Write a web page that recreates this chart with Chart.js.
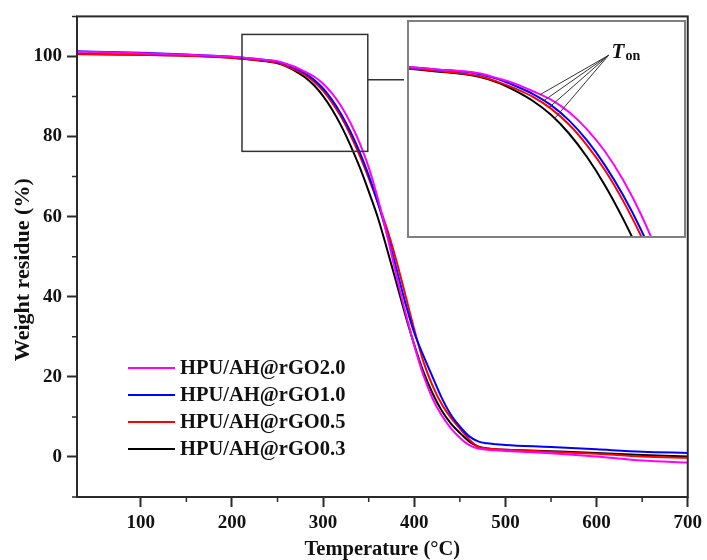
<!DOCTYPE html>
<html>
<head>
<meta charset="utf-8">
<title>TGA curves</title>
<script src="https://cdn.jsdelivr.net/npm/chart.js@4.4.1/dist/chart.umd.min.js"></script>
<style>
  html, body { margin: 0; padding: 0; background: #fff; }
  #wrap { position: relative; width: 707px; height: 560px; overflow: hidden; }
  #mainChart { position: absolute; left: 0; top: 0; }
  #insetBox { position: absolute; left: 407px; top: 20px; width: 279px; height: 218px; background: #fff; }
</style>
</head>
<body>
<div id="wrap">
  <canvas id="mainChart" width="707" height="560"></canvas>
  <div id="insetBox"><canvas id="insetChart" width="279" height="218"></canvas></div>
</div>
<script>
// TGA data (temperature in °C, weight residue in %)
const temps = [30, 50, 100, 150, 200, 225, 250, 260, 270, 280, 290, 300, 310, 320, 330, 340, 350, 360,
               370, 380, 390, 400, 410, 420, 430, 440, 450, 460, 470, 480, 490, 500, 550, 600, 650, 700];

const rgo20 = [101.2, 101.1, 100.8, 100.4, 99.9, 99.4, 98.8, 98.1, 97.3, 96.2, 95.0, 93.2, 90.7, 87.5, 83.4, 78.4, 72.3, 64.5,
               55.5, 45.6, 36.3, 27.8, 20.4, 14.6, 10.4, 7.2, 4.8, 3.0, 2.1, 1.8, 1.65, 1.5, 0.9, 0.1, -0.9, -1.4];
const rgo10 = [101.3, 101.2, 100.9, 100.5, 99.9, 99.4, 98.7, 98.0, 97.0, 95.8, 94.2, 92.0, 89.1, 85.5, 81.2, 76.2, 70.3, 63.5,
               55.8, 47.3, 38.6, 31.0, 25.3, 20.0, 14.8, 10.6, 7.6, 5.2, 3.9, 3.4, 3.2, 3.0, 2.5, 1.9, 1.3, 1.0];
const rgo05 = [100.6, 100.5, 100.4, 100.2, 99.7, 99.2, 98.4, 97.6, 96.6, 95.4, 93.7, 91.4, 88.4, 84.8, 80.4, 75.3, 69.6, 63.5,
               57.0, 49.3, 40.6, 31.8, 23.8, 17.8, 13.2, 9.8, 7.1, 4.4, 2.5, 2.1, 1.9, 1.8, 1.3, 0.8, 0.1, -0.2];
const rgo03 = [100.7, 100.6, 100.4, 100.2, 99.7, 99.1, 98.3, 97.5, 96.3, 94.8, 92.8, 90.1, 86.7, 82.6, 77.8, 72.4, 66.3, 59.8,
               52.0, 43.8, 35.6, 28.0, 21.3, 15.9, 11.6, 8.4, 6.0, 3.9, 2.6, 2.1, 1.9, 1.8, 1.4, 1.0, 0.5, 0.1];

const seriesLabels = ['HPU/AH@rGO2.0', 'HPU/AH@rGO1.0', 'HPU/AH@rGO0.5', 'HPU/AH@rGO0.3'];
const seriesValues = [rgo20, rgo10, rgo05, rgo03];
const seriesColors = ['#ff00ff', '#0000ff', '#ff0000', '#000000'];

const xTickLabels = [100, 200, 300, 400, 500, 600, 700];
const yTickLabels = [0, 20, 40, 60, 80, 100];

// zoomed region (main plot) and the inset ranges
const zoomBoxX = [211, 349];
const zoomBoxY = [76.3, 105.5];
const insetX = [210, 365];
const insetY = [75, 106.5];

// onset temperatures marked in the inset
const onsetTemps = [284, 286, 289, 292];
const onsetLabelAt = [322, 101.4];

const FONT = "'Liberation Serif', 'Times New Roman', serif";
const AXIS = '#2a2a2a';

function valueAt(xs, ys, t) {
  for (let i = 1; i < xs.length; i++) {
    if (t <= xs[i]) {
      const f = (t - xs[i - 1]) / (xs[i] - xs[i - 1]);
      return ys[i - 1] + f * (ys[i] - ys[i - 1]);
    }
  }
  return ys[ys.length - 1];
}

function makeDatasets() {
  return seriesLabels.map((label, i) => ({
    label: label,
    data: temps.map((t, k) => ({ x: t, y: seriesValues[i][k] })),
    borderColor: seriesColors[i],
    backgroundColor: seriesColors[i],
    borderWidth: 2,
    pointRadius: 0,
    fill: false,
    cubicInterpolationMode: 'monotone'
  }));
}

// frame, minor ticks, y title, zoom box and legend for the main plot
const mainDecor = {
  id: 'mainDecor',
  afterDraw(chart) {
    const { ctx, chartArea: a, scales: { x, y } } = chart;
    ctx.save();
    ctx.strokeStyle = AXIS;
    ctx.lineWidth = 2;
    ctx.strokeRect(a.left, a.top, a.right - a.left, a.bottom - a.top);

    // minor ticks
    ctx.lineWidth = 1.5;
    ctx.beginPath();
    x.ticks.forEach(t => {
      if (xTickLabels.includes(t.value)) return;
      const px = x.getPixelForValue(t.value);
      ctx.moveTo(px, a.bottom);
      ctx.lineTo(px, a.bottom + 5);
    });
    y.ticks.forEach(t => {
      if (yTickLabels.includes(t.value)) return;
      const py = y.getPixelForValue(t.value);
      ctx.moveTo(a.left, py);
      ctx.lineTo(a.left - 5, py);
    });
    ctx.stroke();

    // y axis title (sits a little below the plot centre in the original)
    ctx.save();
    ctx.translate(23, (a.top + a.bottom) / 2 + 13);
    ctx.rotate(-Math.PI / 2);
    ctx.font = 'bold 22px ' + FONT;
    ctx.fillStyle = '#111';
    ctx.textAlign = 'center';
    ctx.textBaseline = 'middle';
    ctx.fillText('Weight residue (%)', 0, 0);
    ctx.restore();

    // zoom box + connector
    const bx0 = x.getPixelForValue(zoomBoxX[0]), bx1 = x.getPixelForValue(zoomBoxX[1]);
    const by0 = y.getPixelForValue(zoomBoxY[1]), by1 = y.getPixelForValue(zoomBoxY[0]);
    ctx.strokeStyle = '#333';
    ctx.lineWidth = 1.5;
    ctx.strokeRect(bx0, by0, bx1 - bx0, by1 - by0);
    const cy = y.getPixelForValue(94.2);
    ctx.beginPath();
    ctx.moveTo(bx1, cy);
    ctx.lineTo(404, cy);
    ctx.stroke();

    // legend
    ctx.font = 'bold 20.5px ' + FONT;
    ctx.textBaseline = 'middle';
    ctx.textAlign = 'left';
    seriesLabels.forEach((label, i) => {
      const ly = 368 + i * 27;
      ctx.strokeStyle = seriesColors[i];
      ctx.lineWidth = 2;
      ctx.beginPath();
      ctx.moveTo(128, ly);
      ctx.lineTo(175, ly);
      ctx.stroke();
      ctx.fillStyle = '#111';
      ctx.fillText(label, 180, ly + 1);
    });
    ctx.restore();
  }
};

new Chart(document.getElementById('mainChart'), {
  type: 'line',
  data: { datasets: makeDatasets() },
  options: {
    responsive: false,
    animation: false,
    layout: { padding: { left: 0, top: 15, right: 15, bottom: 0 } },
    plugins: { legend: { display: false }, tooltip: { enabled: false } },
    scales: {
      x: {
        type: 'linear',
        min: 30,
        max: 700,
        afterBuildTicks: (s) => { s.ticks = s.ticks.filter(t => t.value % 50 === 0); },
        afterFit: (s) => { s.height = 63; },
        border: { display: false },
        grid: {
          drawOnChartArea: false,
          tickLength: 10,
          tickWidth: 2,
          tickColor: (c) => (c.tick && xTickLabels.includes(c.tick.value)) ? AXIS : 'rgba(0,0,0,0)'
        },
        ticks: {
          stepSize: 50,
          autoSkip: false,
          maxRotation: 0,
          padding: 5,
          color: '#111',
          font: { family: FONT, size: 19, weight: 'bold' },
          callback: (v) => xTickLabels.includes(v) ? String(v) : ''
        },
        title: {
          display: true,
          text: 'Temperature (°C)',
          color: '#111',
          padding: { top: 0, bottom: 0 },
          font: { family: FONT, size: 20.5, weight: 'bold', lineHeight: 1 }
        }
      },
      y: {
        min: -10,
        max: 110,
        afterFit: (s) => { s.width = 77; },
        border: { display: false },
        grid: {
          drawOnChartArea: false,
          tickLength: 10,
          tickWidth: 2,
          tickColor: (c) => (c.tick && yTickLabels.includes(c.tick.value)) ? AXIS : 'rgba(0,0,0,0)'
        },
        ticks: {
          stepSize: 10,
          autoSkip: false,
          padding: 5,
          color: '#111',
          font: { family: FONT, size: 19, weight: 'bold' },
          callback: (v) => yTickLabels.includes(v) ? String(v) : ''
        },
        title: { display: false }
      }
    }
  },
  plugins: [mainDecor]
});

// inset: frame and T_on pointers
const insetDecor = {
  id: 'insetDecor',
  afterDraw(chart) {
    const { ctx, chartArea: a, scales: { x, y } } = chart;
    ctx.save();
    ctx.strokeStyle = '#808080';
    ctx.lineWidth = 2;
    ctx.strokeRect(a.left + 1, a.top + 1, a.right - a.left - 2, a.bottom - a.top - 2);

    const ax = x.getPixelForValue(onsetLabelAt[0]);
    const ay = y.getPixelForValue(onsetLabelAt[1]);
    ctx.strokeStyle = '#333';
    ctx.lineWidth = 1;
    ctx.beginPath();
    onsetTemps.forEach((t, i) => {
      ctx.moveTo(ax, ay);
      ctx.lineTo(x.getPixelForValue(t), y.getPixelForValue(valueAt(temps, seriesValues[i], t)));
    });
    ctx.stroke();

    ctx.fillStyle = '#111';
    ctx.textBaseline = 'alphabetic';
    ctx.font = 'italic bold 21px ' + FONT;
    ctx.fillText('T', ax + 3, ay + 3);
    const tw = ctx.measureText('T').width;
    ctx.font = 'bold 14px ' + FONT;
    ctx.fillText('on', ax + 4 + tw, ay + 5);
    ctx.restore();
  }
};

new Chart(document.getElementById('insetChart'), {
  type: 'line',
  data: { datasets: makeDatasets() },
  options: {
    responsive: false,
    animation: false,
    layout: { padding: 0 },
    plugins: { legend: { display: false }, tooltip: { enabled: false } },
    scales: {
      x: { type: 'linear', min: insetX[0], max: insetX[1], display: false },
      y: { min: insetY[0], max: insetY[1], display: false }
    }
  },
  plugins: [insetDecor]
});
</script>
</body>
</html>
